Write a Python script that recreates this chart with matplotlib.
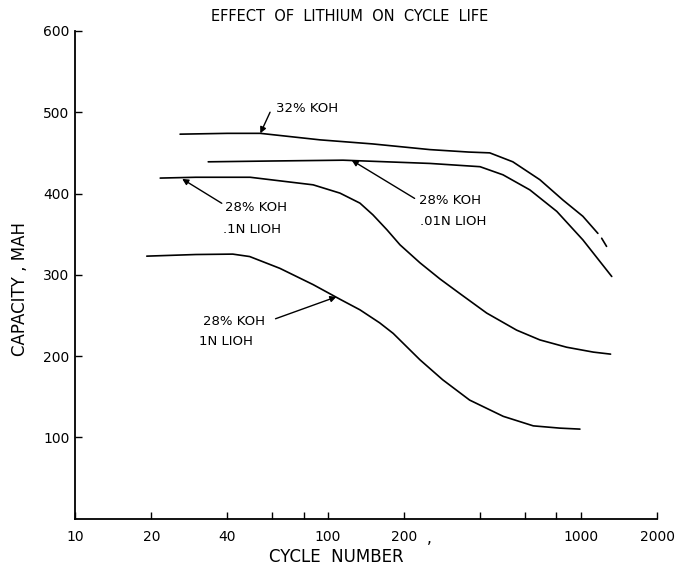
import matplotlib
matplotlib.use("Agg")
import matplotlib.pyplot as plt

plt.rcParams['font.family'] = ['DejaVu Sans']

# Data (cycle number, capacity mAh)
koh32_x = [26, 40, 54, 93, 150, 253, 360, 436, 538, 688, 849, 1018, 1167]
koh32_y = [473, 474, 474, 466, 461, 454, 451, 450, 439, 417, 392, 372, 351]
koh32_tail_x = [1208, 1263]
koh32_tail_y = [345, 335]

li001_x = [33.6, 60, 114.6, 253, 399, 492, 628, 803, 1018, 1324]
li001_y = [439, 440, 441, 437, 433, 423, 404.5, 378, 343, 298]

li01_x = [21.7, 30, 49.2, 64.5, 87.3, 111.5, 133.7, 150.5, 171, 192.6, 231, 277, 332, 424, 557, 688, 878, 1119, 1310]
li01_y = [419, 420, 420, 415.6, 410.7, 400.5, 388.2, 373.8, 355.4, 336.9, 314.8, 295, 277, 253, 232, 220, 211, 205, 202.5]

li1_x = [19.2, 30, 42, 49, 64.5, 87.3, 111.5, 133.7, 160, 181, 231, 284, 363, 493, 648, 826, 991]
li1_y = [323, 325, 325.5, 322.5, 308, 288, 270, 257, 241, 228, 195.5, 171, 146, 126, 114.3, 111.5, 110.3]

x_ticks = [10, 20, 40, 60, 80, 100, 200, 400, 600, 800, 1000, 2000]
x_labels = ['10', '20', '40', '', '', '100', '200', '', '', '', '1000', '2000']
y_ticks = [100, 200, 300, 400, 500, 600]
y_labels = ['100', '200', '300', '400', '500', '600']

fig = plt.figure(figsize=(6.83, 5.72), dpi=100)
ax = fig.add_axes([0.110, 0.093, 0.852, 0.853])
ax.set_xscale('log')
ax.set_xlim(10, 2000)
ax.set_ylim(0, 600)

lw = 1.2
for xs, ys in [(koh32_x, koh32_y), (koh32_tail_x, koh32_tail_y), (li001_x, li001_y),
               (li01_x, li01_y), (li1_x, li1_y)]:
    ax.plot(xs, ys, color='black', lw=lw, solid_capstyle='round', solid_joinstyle='round')

for s in ['top', 'right']:
    ax.spines[s].set_visible(False)
for s in ['left', 'bottom']:
    ax.spines[s].set_linewidth(1.3)

ax.set_xticks(x_ticks)
ax.set_xticklabels(x_labels)
ax.xaxis.set_minor_locator(matplotlib.ticker.NullLocator())
ax.set_yticks(y_ticks)
ax.set_yticklabels(y_labels)
ax.tick_params(axis='both', direction='in', length=5, width=1, labelsize=10, pad=8)
ax.tick_params(axis='y', pad=4)

ax.text(245, -24, ',', fontsize=11, ha='left', va='center', clip_on=False)

fig.text(0.512, 0.972, 'EFFECT  OF  LITHIUM  ON  CYCLE  LIFE', ha='center', va='center',
         fontsize=10.5)
fig.text(0.492, 0.026, 'CYCLE  NUMBER', ha='center', va='center', fontsize=12)
fig.text(0.030, 0.495, 'CAPACITY , MAH', ha='center', va='center', rotation=90, fontsize=12)

arrow = dict(arrowstyle='-|>', color='black', lw=1, mutation_scale=9, shrinkA=0, shrinkB=0)
fs = 9.5
ax.annotate('', xy=(54, 474), xytext=(59, 500), arrowprops=arrow)
ax.text(62, 505, '32% KOH', fontsize=fs, ha='left', va='center')

ax.annotate('', xy=(124, 441), xytext=(220, 394), arrowprops=arrow)
ax.text(228, 392, '28% KOH', fontsize=fs, ha='left', va='center')
ax.text(231, 365, '.01N LIOH', fontsize=fs, ha='left', va='center')

ax.annotate('', xy=(26.5, 418), xytext=(38, 388), arrowprops=arrow)
ax.text(39, 383, '28% KOH', fontsize=fs, ha='left', va='center')
ax.text(38.5, 356, '.1N LIOH', fontsize=fs, ha='left', va='center')

ax.annotate('', xy=(108, 273), xytext=(62, 246), arrowprops=arrow)
ax.text(32, 243, '28% KOH', fontsize=fs, ha='left', va='center')
ax.text(31, 218, '1N LIOH', fontsize=fs, ha='left', va='center')

fig.savefig('out.png', dpi=100, facecolor='white')
